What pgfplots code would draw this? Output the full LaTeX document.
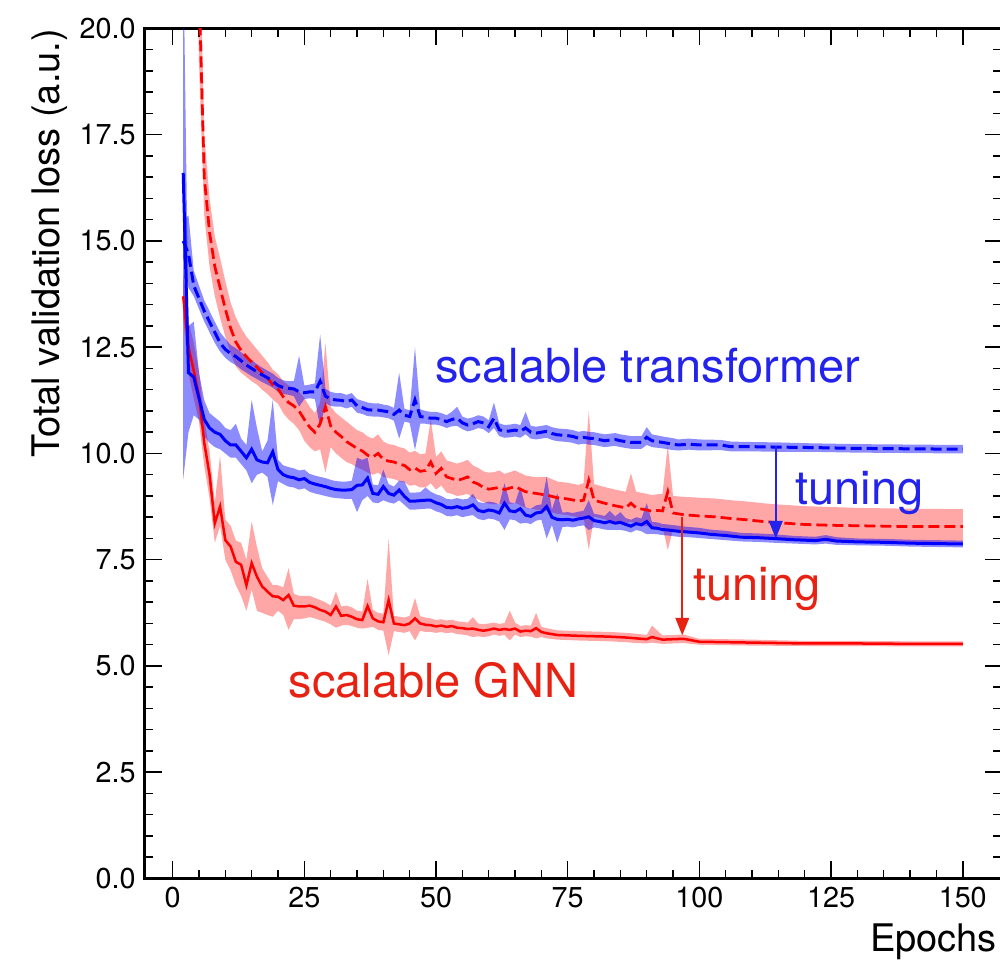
\documentclass[border=0pt]{standalone}
\usepackage{fontspec}
\setmainfont{TeX Gyre Heros}
\usepackage{pgfplots}
\usepackage{pgfplotstable}
\pgfplotsset{compat=1.18}
\usepgfplotslibrary{fillbetween}
\usetikzlibrary{arrows.meta}

\definecolor{txtblue}{RGB}{35,35,235}
\definecolor{txtred}{RGB}{232,34,18}

% transformer baseline (blue dashed)
\pgfplotstableread{
x y lo hi
2 15.0 14.6 15.5
3 14.7 13.9 15.6
4 13.95 13.7 14.3
5 13.65 13.4 13.95
6 13.35 13.1 13.6
7 13.1 12.85 13.35
8 12.85 12.6 13.1
9 12.6 12.4 12.85
10 12.45 12.25 12.7
11 12.35 12.15 12.55
12 12.28 12.08 12.48
13 12.18 11.98 12.38
14 12.08 11.9 12.28
15 12.0 11.82 12.2
16 11.92 11.75 12.1
17 11.85 11.68 12.02
18 11.78 11.62 11.95
19 11.7 11.55 11.88
20 11.6 11.45 11.78
21 11.55 11.4 11.72
22 11.53 11.38 11.7
23 11.52 11.35 11.7
24 11.45 11.1 12.3
25 11.43 11.28 11.6
26 11.45 11.3 11.62
27 11.45 11.28 11.65
28 11.7 10.6 12.8
29 11.35 11.18 11.52
30 11.28 11.12 11.45
31 11.26 11.1 11.42
32 11.25 11.1 11.42
33 11.22 11.06 11.38
34 11.26 11.1 11.42
35 11.12 10.96 11.28
36 11.08 10.93 11.24
37 11.03 10.88 11.2
38 11.02 10.87 11.18
39 11.02 10.87 11.18
40 11.0 10.85 11.15
41 10.98 10.83 11.13
42 10.92 10.77 11.07
43 11.02 10.35 11.9
44 10.9 10.75 11.05
45 10.87 10.72 11.02
46 11.26 10.08 12.5
47 10.87 10.7 11.04
48 10.85 10.7 11.0
49 10.83 10.68 10.98
50 10.83 10.68 10.98
51 10.8 10.65 10.95
52 10.75 10.6 10.9
53 10.8 10.64 10.98
54 10.83 10.65 11.1
55 10.72 10.57 10.87
56 10.67 10.52 10.82
57 10.7 10.55 10.85
58 10.75 10.6 10.9
59 10.72 10.57 10.87
60 10.63 10.48 10.78
61 10.83 10.6 11.2
62 10.56 10.41 10.71
63 10.52 10.37 10.67
64 10.53 10.38 10.68
65 10.55 10.4 10.7
66 10.52 10.37 10.67
67 10.6 10.45 10.98
68 10.5 10.35 10.65
69 10.48 10.33 10.63
70 10.5 10.35 10.65
71 10.52 10.37 10.67
72 10.47 10.32 10.62
73 10.44 10.29 10.59
75 10.42 10.27 10.57
76 10.4 10.25 10.55
77 10.36 10.21 10.51
78 10.38 10.23 10.53
79 10.36 10.21 10.51
80 10.35 10.2 10.5
82 10.3 10.15 10.45
84 10.33 10.18 10.48
85 10.3 10.15 10.45
87 10.26 10.11 10.41
89 10.26 10.11 10.41
90 10.38 10.2 10.62
91 10.3 10.15 10.45
93 10.26 10.12 10.4
95 10.22 10.08 10.36
96 10.2 10.07 10.33
98 10.22 10.09 10.35
100 10.2 10.07 10.33
104 10.2 10.08 10.32
106 10.16 10.05 10.28
110 10.16 10.05 10.27
115 10.15 10.04 10.26
121 10.14 10.04 10.24
130 10.12 10.02 10.22
140 10.11 10.01 10.21
150 10.1 10.0 10.2
}\bd

% transformer tuned (blue solid)
\pgfplotstableread{
x y lo hi
2 16.6 9.4 22.0
3 11.9 10.5 13.0
4 11.8 10.9 13.1
5 11.3 10.8 11.9
6 10.8 10.4 11.25
7 10.6 10.25 10.95
8 10.5 10.15 10.85
9 10.45 10.1 10.75
10 10.3 10.0 10.6
11 10.2 9.9 10.55
12 10.2 9.9 10.7
13 10.05 9.75 10.35
14 9.9 9.6 10.2
15 10.1 9.3 11.26
16 9.85 9.5 10.6
17 9.8 9.55 10.05
18 9.78 9.45 10.3
19 10.04 8.79 11.26
20 9.62 9.35 9.85
21 9.5 9.28 9.72
22 9.45 9.22 9.68
23 9.43 9.2 9.65
24 9.38 9.15 9.6
25 9.41 9.18 9.62
26 9.32 9.1 9.52
27 9.28 9.06 9.48
28 9.25 9.03 9.45
29 9.22 9.0 9.42
30 9.18 8.97 9.38
31 9.15 8.95 9.35
32 9.14 8.94 9.34
33 9.14 8.93 9.34
34 9.15 8.93 9.36
35 9.25 8.62 9.9
36 9.26 8.9 9.85
37 9.42 9.0 9.9
38 9.06 8.85 9.27
39 9.04 8.83 9.25
40 9.22 8.9 9.62
41 9.06 8.85 9.28
42 9.02 8.82 9.22
43 9.14 8.9 9.36
44 8.99 8.79 9.34
45 8.88 8.68 9.08
46 8.88 8.68 9.08
47 8.89 8.69 9.09
48 8.9 8.7 9.2
49 8.9 8.7 9.1
50 8.84 8.64 9.04
51 8.8 8.6 9.0
52 8.73 8.53 8.93
53 8.72 8.52 8.92
54 8.75 8.55 8.95
55 8.71 8.5 8.92
56 8.73 8.53 8.93
57 8.79 8.55 9.05
58 8.66 8.46 8.86
59 8.63 8.43 8.83
60 8.67 8.47 8.87
61 8.65 8.45 8.85
62 8.6 8.4 8.8
63 8.83 8.2 9.3
64 8.65 8.45 8.85
65 8.63 8.43 8.83
66 8.7 8.35 9.22
67 8.55 8.37 8.73
68 8.52 8.34 8.7
69 8.6 8.42 8.78
70 8.62 8.44 8.8
71 8.75 8.0 9.45
72 8.5 8.32 8.68
73 8.45 7.9 9.06
74 8.44 8.27 8.61
75 8.45 8.28 8.62
76 8.43 8.26 8.6
77 8.46 8.29 8.63
78 8.48 8.31 8.65
79 8.51 8.2 8.9
80 8.42 8.26 8.58
81 8.4 8.24 8.56
82 8.37 8.21 8.53
83 8.4 8.2 8.65
84 8.36 8.2 8.52
85 8.38 8.2 8.62
86 8.33 8.18 8.48
87 8.29 8.14 8.44
88 8.35 8.2 8.5
89 8.32 8.17 8.47
90 8.4 8.1 8.83
91 8.25 8.11 8.39
92 8.24 8.1 8.38
93 8.21 8.08 8.34
94 8.2 8.07 8.33
96 8.17 8.04 8.3
98 8.15 8.03 8.27
100 8.13 8.01 8.25
102 8.1 7.99 8.21
105 8.07 7.96 8.18
108 8.03 7.93 8.13
111 8.02 7.92 8.12
114 8.0 7.9 8.1
118 7.97 7.88 8.06
122 7.95 7.86 8.04
124 7.98 7.88 8.08
126 7.94 7.85 8.03
130 7.92 7.84 8.0
135 7.91 7.83 7.99
140 7.89 7.81 7.97
145 7.88 7.8 7.96
150 7.87 7.79 7.95
}\bs

% GNN baseline (red dashed)
\pgfplotstableread{
x y lo hi
2 60 50 70
3 40 35 45
4 28 25 31
5 21 19.2 23
6 16.5 15.6 17.5
7 15.2 14.4 16.0
8 14.4 13.7 15.1
9 13.9 13.2 14.6
10 13.4 12.75 14.05
11 12.95 12.35 13.55
12 12.62 12.05 13.2
13 12.42 11.9 12.95
14 12.28 11.8 12.75
15 12.15 11.7 12.6
16 12.03 11.62 12.45
17 11.9 11.5 12.3
18 11.78 11.4 12.15
19 11.62 11.27 11.97
20 11.52 11.17 11.87
21 11.33 10.95 11.7
22 11.2 10.8 11.6
23 11.12 10.7 11.55
24 11.0 10.55 11.45
25 10.8 10.3 11.3
26 10.62 10.15 11.1
27 10.5 10.05 10.95
28 10.7 10.1 11.2
29 11.1 9.55 12.6
30 10.65 10.15 11.1
31 10.5 10.0 10.95
32 10.4 9.9 10.85
33 10.28 9.8 10.75
34 10.2 9.75 10.65
35 10.12 9.68 10.55
36 10.06 9.62 10.5
37 9.96 9.55 10.4
38 9.92 9.5 10.35
39 10.0 9.55 10.45
40 9.86 9.45 10.28
41 9.82 9.42 10.22
42 9.8 9.4 10.2
43 9.75 9.35 10.15
44 9.72 9.32 10.12
45 9.62 9.24 10.02
46 9.66 9.26 10.06
47 9.58 9.2 9.98
48 9.6 9.2 10.0
49 9.8 9.3 10.8
50 9.53 9.15 9.92
51 9.65 9.25 10.05
52 9.45 9.08 9.84
53 9.41 9.05 9.8
54 9.37 9.0 9.76
55 9.4 9.02 9.8
56 9.45 9.05 9.85
57 9.33 8.96 9.72
58 9.28 8.92 9.66
59 9.2 8.85 9.58
60 9.16 8.82 9.55
61 9.18 8.8 9.56
62 9.2 8.82 9.6
63 9.15 8.78 9.52
65 9.22 8.84 9.6
67 9.1 8.72 9.48
69 9.06 8.68 9.44
71 9.02 8.65 9.45
73 8.96 8.58 9.34
75 8.93 8.55 9.31
77 8.88 8.5 9.26
78 8.9 8.52 9.3
79 9.37 7.73 11.0
80 8.9 8.52 9.28
82 8.83 8.45 9.21
84 8.77 8.39 9.15
86 8.72 8.34 9.1
87 8.83 8.4 9.53
88 8.72 8.34 9.1
90 8.67 8.29 9.05
91 8.64 8.26 9.02
92 8.66 8.28 9.04
93 8.65 8.27 9.05
94 9.1 7.73 10.2
95 8.6 8.22 9.0
97 8.56 8.18 8.98
100 8.53 8.15 8.96
103 8.51 8.13 8.94
106 8.47 8.09 8.9
109 8.44 8.06 8.87
112 8.4 8.02 8.83
115 8.37 7.99 8.8
120 8.33 7.95 8.76
125 8.31 7.93 8.74
130 8.3 7.92 8.72
140 8.28 7.9 8.7
150 8.28 7.9 8.69
}\rd

% GNN tuned (red solid)
\pgfplotstableread{
x y lo hi
2 13.7 13.2 14.2
3 12.5 11.9 13.1
4 11.95 11.3 12.6
5 11.35 10.75 11.95
6 10.25 9.7 10.8
7 9.5 8.95 10.05
8 8.36 7.9 8.85
9 8.75 8.3 9.95
10 7.96 7.5 8.45
11 7.81 7.25 8.3
12 7.45 6.9 7.95
13 7.38 6.65 7.9
14 6.9 6.3 7.5
15 7.42 6.8 8.4
16 7.1 6.3 7.8
17 6.87 6.25 7.3
18 6.75 6.2 7.1
19 6.64 6.16 6.9
20 6.63 6.3 6.9
21 6.55 6.2 6.85
22 6.67 5.85 7.3
23 6.42 6.1 6.7
24 6.4 6.1 6.65
25 6.4 6.12 6.65
26 6.42 6.15 6.65
27 6.38 6.12 6.6
28 6.32 6.08 6.55
29 6.28 6.04 6.5
30 6.2 5.98 6.42
31 6.4 5.9 6.75
32 6.18 5.95 6.4
33 6.2 5.97 6.42
34 6.16 5.94 6.38
35 6.1 5.9 6.3
36 6.08 5.88 6.28
37 6.41 5.9 7.05
38 6.12 5.92 6.32
39 6.05 5.85 6.25
40 6.03 5.83 6.23
41 6.55 5.25 8.0
42 6.0 5.82 6.18
43 5.98 5.8 6.16
44 5.96 5.78 6.14
45 6.0 5.82 6.18
46 6.12 5.6 6.6
47 6.0 5.83 6.17
48 5.97 5.8 6.14
49 5.96 5.8 6.12
50 5.93 5.78 6.08
51 5.95 5.8 6.1
52 5.92 5.77 6.07
53 5.94 5.79 6.09
54 5.9 5.75 6.05
55 5.89 5.74 6.04
56 5.87 5.72 6.02
57 5.88 5.68 6.15
58 5.85 5.7 6.0
59 5.83 5.68 5.98
60 5.85 5.7 6.0
61 5.88 5.74 6.02
62 5.85 5.71 5.99
63 5.87 5.73 6.01
64 5.85 5.6 6.3
65 5.88 5.74 6.02
66 5.81 5.68 5.94
67 5.83 5.7 5.96
68 5.82 5.69 5.95
69 5.89 5.65 6.25
70 5.8 5.68 5.92
71 5.77 5.65 5.89
73 5.73 5.62 5.84
75 5.72 5.61 5.83
77 5.71 5.6 5.82
80 5.7 5.59 5.81
83 5.69 5.58 5.8
86 5.67 5.56 5.78
88 5.65 5.54 5.76
90 5.63 5.53 5.73
91 5.68 5.55 5.95
93 5.62 5.52 5.72
95 5.63 5.53 5.73
97 5.64 5.54 5.74
100 5.57 5.5 5.64
105 5.56 5.49 5.63
110 5.55 5.48 5.62
120 5.53 5.47 5.59
130 5.53 5.47 5.59
140 5.52 5.46 5.58
150 5.52 5.46 5.58
}\rs

\begin{document}
\begin{tikzpicture}
\begin{axis}[
  at={(0,0)}, anchor=south west,
  scale only axis, width=343pt, height=340pt,
  xmin=-5.35, xmax=157.45, ymin=0, ymax=20,
  xtick={0,25,...,150}, ytick={0,2.5,...,20},
  minor x tick num=4, minor y tick num=4,
  tick align=inside,
  major tick length=6.8pt, minor tick length=3.4pt,
  axis line style={line width=1.3pt},
  every tick/.style={black, line width=0.6pt},
  /pgf/number format/assume math mode=true,
  tick label style={font=\fontsize{11.5}{13}\selectfont},
  yticklabel style={/pgf/number format/fixed, /pgf/number format/fixed zerofill, /pgf/number format/precision=1},
  clip=true,
]
% bands
\addplot[name path=rdhi, draw=none, forget plot] table[x=x, y=hi] {\rd};
\addplot[name path=rdlo, draw=none, forget plot] table[x=x, y=lo] {\rd};
\addplot[fill=red, fill opacity=0.35, draw=none, forget plot] fill between[of=rdhi and rdlo];
\addplot[name path=rshi, draw=none, forget plot] table[x=x, y=hi] {\rs};
\addplot[name path=rslo, draw=none, forget plot] table[x=x, y=lo] {\rs};
\addplot[fill=red, fill opacity=0.35, draw=none, forget plot] fill between[of=rshi and rslo];
\addplot[name path=bdhi, draw=none, forget plot] table[x=x, y=hi] {\bd};
\addplot[name path=bdlo, draw=none, forget plot] table[x=x, y=lo] {\bd};
\addplot[fill=blue, fill opacity=0.45, draw=none, forget plot] fill between[of=bdhi and bdlo];
\addplot[name path=bshi, draw=none, forget plot] table[x=x, y=hi] {\bs};
\addplot[name path=bslo, draw=none, forget plot] table[x=x, y=lo] {\bs};
\addplot[fill=blue, fill opacity=0.45, draw=none, forget plot] fill between[of=bshi and bslo];
% lines
\addplot[red, line width=1.1pt, dash pattern=on 4.4pt off 2pt, mark=none] table[x=x, y=y] {\rd};
\addplot[red, line width=1.0pt, mark=none] table[x=x, y=y] {\rs};
\addplot[blue, line width=1.2pt, dash pattern=on 4.4pt off 2pt, mark=none] table[x=x, y=y] {\bd};
\addplot[blue, line width=1.2pt, mark=none] table[x=x, y=y] {\bs};
% arrows
\draw[txtblue, line width=0.8pt, -{Triangle[length=7pt,width=5.4pt]}] (axis cs:114.5,10.18) -- (axis cs:114.5,8.0);
\draw[txtred, line width=0.8pt, -{Triangle[length=7pt,width=5.4pt]}] (axis cs:96.75,8.5) -- (axis cs:96.75,5.72);
% annotations
\node[anchor=base west, inner sep=0pt, text=txtblue, font=\fontsize{18.8}{22}\selectfont] at (axis cs:49.8,11.66) {scalable transformer};
\node[anchor=base west, inner sep=0pt, text=txtblue, font=\fontsize{18.8}{22}\selectfont] at (axis cs:118.15,8.79) {tuning};
\node[anchor=base west, inner sep=0pt, text=txtred, font=\fontsize{18.8}{22}\selectfont] at (axis cs:98.7,6.54) {tuning};
\node[anchor=base west, inner sep=0pt, text=txtred, font=\fontsize{18.8}{22}\selectfont] at (axis cs:21.9,4.27) {scalable GNN};
\end{axis}
\node[rotate=90, anchor=base east, inner sep=0pt, font=\fontsize{15.2}{18}\selectfont] at (-33.8pt,340pt) {Total validation loss (a.u.)};
\node[anchor=base east, inner sep=0pt, font=\fontsize{15.2}{18}\selectfont] at (341.2pt,-29.3pt) {Epochs};
\pgfresetboundingbox
\path[use as bounding box] (-57.8pt,-33.4pt) rectangle (342.2pt,351.4pt);
\end{tikzpicture}
\end{document}
